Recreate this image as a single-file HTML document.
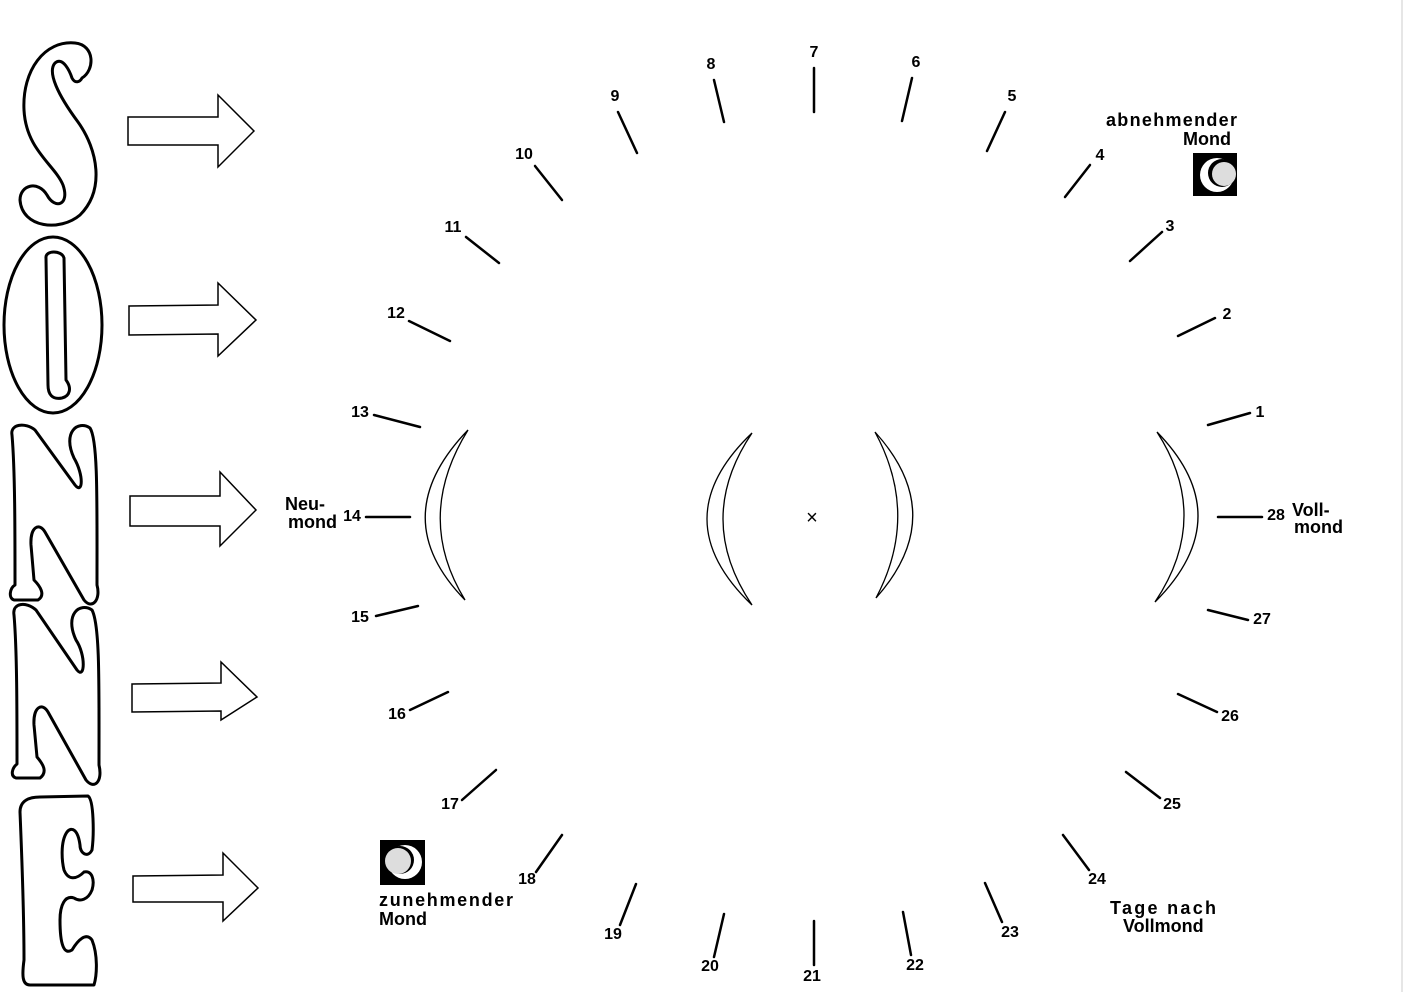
<!DOCTYPE html>
<html><head><meta charset="utf-8"><style>
html,body{margin:0;padding:0;background:#fff}
svg{display:block}
text{font-family:"Liberation Sans",sans-serif;font-weight:bold;fill:#000}
</style></head><body>
<svg width="1404" height="992" viewBox="0 0 1404 992" xmlns="http://www.w3.org/2000/svg">
<rect width="1404" height="992" fill="#fff"/>
<line x1="1402" y1="0" x2="1402" y2="992" stroke="#ccc" stroke-width="1"/>
<g fill="none" stroke="#000" stroke-width="3" stroke-linejoin="round">
<path d="M82,78 C95,70 95,45 75,43 C45,40 22,70 24,110 C26,150 55,165 63,185 C70,205 55,210 47,195 C38,180 20,185 20,200 C22,228 60,232 80,215 C105,190 98,150 78,122 C58,95 47,72 55,63 C63,56 70,72 72,78 C75,84 80,82 82,78 Z"/>
<ellipse cx="53" cy="325" rx="49" ry="88"/>
<path d="M46,258 C45,250 62,250 64,258 L66,380 C72,388 70,396 62,398 C52,400 48,394 48,385 Z"/>
<path d="M12,435 C10,424 25,422 35,430 L75,485 C83,495 84,475 74,458 C62,432 78,420 90,428 C98,440 97,500 97,585 C101,600 92,610 84,600 L45,532 C39,522 30,527 31,545 L34,580 C40,586 46,595 38,600 L14,600 C8,598 10,588 15,585 C15,530 15,470 12,435 Z"/>
<path d="M14,615 C12,603 26,601 36,610 L77,670 C85,680 86,655 76,640 C64,614 80,602 92,610 C100,625 99,685 99,765 C103,782 94,790 86,780 L48,712 C42,702 33,707 34,725 L37,757 C43,764 48,772 40,778 L16,778 C10,776 12,768 17,764 C17,710 17,650 14,615 Z"/>
<path d="M20,812 C20,800 30,797 40,797 L88,796 C94,800 94,835 92,850 C88,858 80,854 80,845 C78,830 72,826 67,832 C60,842 62,862 64,870 C68,880 76,880 84,872 C92,870 95,880 92,890 C88,900 80,902 74,898 C65,895 60,905 60,920 C60,945 64,955 72,950 C78,940 86,932 92,940 C98,955 97,975 94,985 L30,985 C22,985 22,975 24,960 C24,910 22,860 20,812 Z"/>
</g>
<g fill="#fff" stroke="#000" stroke-width="1.5">
<path d="M128,117 L218,117 L218,95 L254,131 L218,167 L218,145 L128,145 Z"/>
<path d="M129,306 L218,305 L218,283 L256,320 L218,356 L218,334 L129,335 Z"/>
<path d="M130,496 L220,496 L220,472 L256,510 L220,546 L220,526 L130,526 Z"/>
<path d="M132,684 L221,683 L221,662 L257,697 L221,720 L221,711 L132,712 Z"/>
<path d="M133,876 L223,875 L223,853 L258,888 L223,921 L223,902 L133,902 Z"/>
</g>
<g stroke="#000" stroke-width="2.5" stroke-linecap="round">
<line x1="1208" y1="425" x2="1250" y2="413"/>
<line x1="1178" y1="336" x2="1215" y2="318"/>
<line x1="1130" y1="261" x2="1162" y2="232"/>
<line x1="1065" y1="197" x2="1090" y2="165"/>
<line x1="987" y1="151" x2="1005" y2="112"/>
<line x1="902" y1="121" x2="912" y2="78"/>
<line x1="814" y1="112" x2="814" y2="68"/>
<line x1="724" y1="122" x2="714" y2="80"/>
<line x1="637" y1="153" x2="618" y2="112"/>
<line x1="562" y1="200" x2="535" y2="166"/>
<line x1="499" y1="263" x2="466" y2="237"/>
<line x1="450" y1="341" x2="409" y2="321"/>
<line x1="420" y1="427" x2="374" y2="415"/>
<line x1="410" y1="517" x2="366" y2="517"/>
<line x1="418" y1="606" x2="376" y2="616"/>
<line x1="448" y1="692" x2="410" y2="710"/>
<line x1="496" y1="770" x2="462" y2="800"/>
<line x1="562" y1="835" x2="536" y2="872"/>
<line x1="636" y1="884" x2="620" y2="925"/>
<line x1="724" y1="914" x2="714" y2="957"/>
<line x1="814" y1="921" x2="814" y2="965"/>
<line x1="903" y1="912" x2="911" y2="955"/>
<line x1="985" y1="883" x2="1002" y2="922"/>
<line x1="1063" y1="835" x2="1089" y2="870"/>
<line x1="1126" y1="772" x2="1160" y2="798"/>
<line x1="1178" y1="694" x2="1217" y2="712"/>
<line x1="1208" y1="610" x2="1248" y2="620"/>
<line x1="1218" y1="517" x2="1262" y2="517"/>
</g>
<g font-size="16" text-anchor="middle" dominant-baseline="middle">
<text x="1260" y="413">1</text><text x="1227" y="315">2</text><text x="1170" y="227">3</text>
<text x="1100" y="156">4</text><text x="1012" y="97">5</text><text x="916" y="63">6</text>
<text x="814" y="53">7</text><text x="711" y="65">8</text><text x="615" y="97">9</text>
<text x="524" y="155">10</text><text x="453" y="228">11</text><text x="396" y="314">12</text>
<text x="360" y="413">13</text><text x="352" y="517">14</text><text x="360" y="618">15</text>
<text x="397" y="715">16</text><text x="450" y="805">17</text><text x="527" y="880">18</text>
<text x="613" y="935">19</text><text x="710" y="967">20</text><text x="812" y="977">21</text>
<text x="915" y="966">22</text><text x="1010" y="933">23</text><text x="1097" y="880">24</text>
<text x="1172" y="805">25</text><text x="1230" y="717">26</text><text x="1262" y="620">27</text>
<text x="1276" y="516">28</text>
</g>
<g font-size="18">
<text x="285" y="510">Neu-</text>
<text x="288" y="528">mond</text>
<text x="1292" y="516">Voll-</text>
<text x="1294" y="533">mond</text>
<text x="1106" y="126" textLength="131">abnehmender</text>
<text x="1183" y="145">Mond</text>
<text x="379" y="906" textLength="134">zunehmender</text>
<text x="379" y="925">Mond</text>
<text x="1110" y="914" textLength="106">Tage nach</text>
<text x="1123" y="932">Vollmond</text>
</g>
<g fill="none" stroke="#000" stroke-width="1.3">
<path d="M468,430 Q384,517 465,600 Q414,517 468,430 Z"/>
<path d="M752,433 Q662,519 752,605 Q694,519 752,433 Z"/>
<path d="M875,432 Q950,515 876,598 Q920,515 875,432 Z"/>
<path d="M1157,432 Q1240,517 1155,602 Q1212,517 1157,432 Z"/>
</g>
<text x="812" y="524" font-size="20" text-anchor="middle" style="font-weight:normal">×</text>
<rect x="1193" y="153" width="44" height="43" fill="#000"/>
<circle cx="1217" cy="175" r="17" fill="#fff"/>
<circle cx="1222" cy="173" r="14" fill="#000"/>
<circle cx="1224" cy="174" r="12" fill="#ddd"/>
<rect x="380" y="840" width="45" height="45" fill="#000"/>
<circle cx="405" cy="862" r="17" fill="#fff"/>
<circle cx="400" cy="860" r="14" fill="#000"/>
<circle cx="398" cy="861" r="13" fill="#ddd"/>
</svg>
</body></html>
